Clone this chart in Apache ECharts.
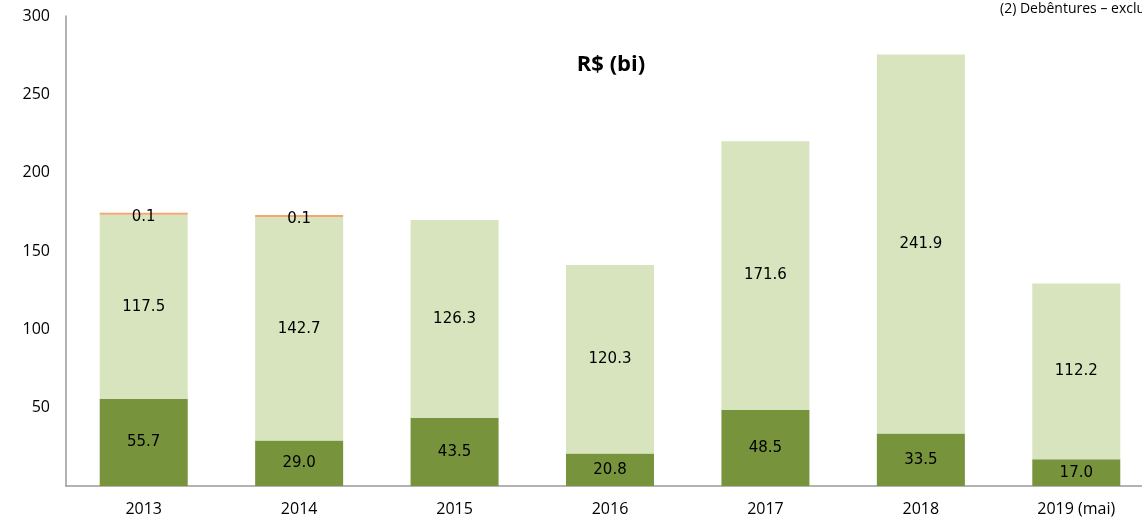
<!DOCTYPE html>
<html><head><meta charset="utf-8">
<script src="https://cdn.jsdelivr.net/npm/echarts@6/dist/echarts.min.js"></script>
<style>html,body{margin:0;padding:0;background:#fff}#c{width:1142px;height:520px}</style>
</head><body><div id="c"></div>
<script>
const categories = ['2013','2014','2015','2016','2017','2018','2019 (mai)'];
const darkValues = [55.7, 29.0, 43.5, 20.8, 48.5, 33.5, 17.0];
const lightValues = [117.5, 142.7, 126.3, 120.3, 171.6, 241.9, 112.2];
const orangeValues = [0.1, 0.1, null, null, null, null, null];
const yTicks = [0, 50, 100, 150, 200, 250, 300];

const chart = echarts.init(document.getElementById('c'));
const lblFont = {fontFamily: 'DejaVu Sans', fontSize: 15, color: '#000'};
chart.setOption({
  animation: false,
  grid: {left: 66, top: 16, height: 470, width: 1088, outerBoundsMode: 'none', containLabel: false},
  title: {text: 'R$ (bi)', left: 606, top: 49, textAlign: 'center',
    textStyle: {fontFamily: 'Open Sans', fontWeight: 'bold', fontSize: 22, color: '#000'}},
  graphic: [{type: 'text', left: 1000, top: 2,
    style: {text: '(2) Debêntures – exclusive', font: '14px "Open Sans"', fill: '#000'}}],
  xAxis: {type: 'category', data: categories,
    axisLine: {lineStyle: {color: '#9a9a9a', width: 1.5}}, axisTick: {show: false},
    axisLabel: {fontFamily: 'Open Sans', fontSize: 16, color: '#000', margin: 15}},
  yAxis: {type: 'value', min: 0, max: 300, interval: 50,
    axisLine: {show: true, lineStyle: {color: '#9a9a9a', width: 1.5}}, axisTick: {show: false},
    splitLine: {show: false},
    axisLabel: {fontFamily: 'Open Sans', fontSize: 16, color: '#000', margin: 16,
      formatter: v => (v === 0 || yTicks.indexOf(v) < 0) ? '' : String(v)}},
  series: [
    {type: 'bar', stack: 's', data: darkValues, barWidth: 88,
      itemStyle: {color: '#77933C'},
      label: Object.assign({show: true, position: 'inside', formatter: p => p.value.toFixed(1)}, lblFont)},
    {type: 'bar', stack: 's', data: lightValues, barWidth: 88,
      itemStyle: {color: '#D7E4BD'},
      label: Object.assign({show: true, position: 'inside', formatter: p => p.value.toFixed(1)}, lblFont)},
    {type: 'bar', stack: 's', data: orangeValues, barMinHeight: 2, barWidth: 88,
      itemStyle: {color: '#F5A673'},
      label: Object.assign({show: true, position: 'inside', offset: [0, 3], formatter: p => p.value == null ? '' : p.value.toFixed(1)}, lblFont)}
  ]
});
</script></body></html>
